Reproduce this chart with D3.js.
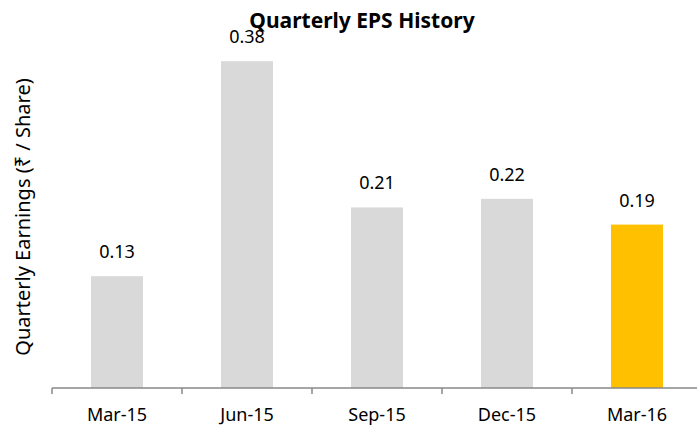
<!DOCTYPE html>
<html><head><meta charset="utf-8">
<script src="https://cdn.jsdelivr.net/npm/d3@7"></script>
<style>body{margin:0;background:#fff}svg{display:block}</style>
</head><body>
<svg id="c" width="697" height="427"></svg>
<script>
const categories = ["Mar-15","Jun-15","Sep-15","Dec-15","Mar-16"];
const values = [0.13, 0.38, 0.21, 0.22, 0.19];
const labels = ["0.13","0.38","0.21","0.22","0.19"];
const colors = ["#D9D9D9","#D9D9D9","#D9D9D9","#D9D9D9","#FFC000"];

const svg = d3.select("#c");
const font = "'Noto Sans', 'Open Sans', sans-serif";
const x0 = 52, step = 130, base = 388;
const x = d3.scaleBand().domain(categories).range([x0, x0 + step*categories.length]).paddingInner(0.6).paddingOuter(0.3);
const y = d3.scaleLinear().domain([0, 0.4]).range([base, base - 344]);

svg.selectAll("rect.bar").data(values).join("rect")
  .attr("x", (d,i)=>x(categories[i]))
  .attr("y", d=>y(d))
  .attr("width", x.bandwidth())
  .attr("height", d=>base - y(d))
  .attr("fill", (d,i)=>colors[i]);

svg.selectAll("text.lbl").data(values).join("text")
  .attr("x", (d,i)=>x(categories[i]) + x.bandwidth()/2)
  .attr("y", d=>y(d) - 18)
  .attr("text-anchor","middle")
  .attr("font-family", font).attr("font-size", 18).attr("fill","#000")
  .text((d,i)=>labels[i]);

const g = svg.append("g").attr("transform", `translate(0,${base})`);
g.append("line").attr("x1", x0).attr("x2", 697).attr("stroke","#898989").attr("stroke-width",1.5);
const tickX = d3.range(categories.length + 1).map(i => x0 + i*step);
g.selectAll("line.tk").data(tickX).join("line")
  .attr("x1", d=>d).attr("x2", d=>d).attr("y1",0).attr("y2",6)
  .attr("stroke","#898989").attr("stroke-width",1.5);
g.selectAll("text.cat").data(categories).join("text")
  .attr("x", d=>x(d) + x.bandwidth()/2)
  .attr("y", 33)
  .attr("text-anchor","middle")
  .attr("font-family", font).attr("font-size", 18).attr("fill","#000")
  .text(d=>d);

svg.append("text").attr("x", 362).attr("y", 27.5).attr("text-anchor","middle")
  .attr("font-family", font).attr("font-weight","bold").attr("font-size", 21).attr("fill","#000")
  .text("Quarterly EPS History");

svg.append("text").attr("transform","translate(30,217) rotate(-90)")
  .attr("text-anchor","middle")
  .attr("font-family", font).attr("font-size", 20).attr("fill","#000")
  .text("Quarterly Earnings (₹ / Share)");
</script>
</body></html>
